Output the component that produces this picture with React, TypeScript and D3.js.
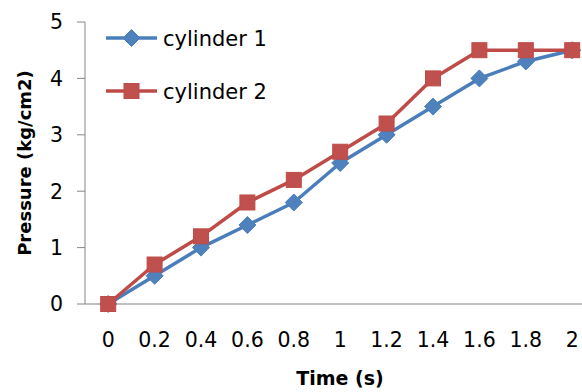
import React from "react";
import * as d3 from "d3";

const categories = ["0", "0.2", "0.4", "0.6", "0.8", "1", "1.2", "1.4", "1.6", "1.8", "2"];
const cylinder1 = [0, 0.5, 1, 1.4, 1.8, 2.5, 3, 3.5, 4, 4.3, 4.5];
const cylinder2 = [0, 0.7, 1.2, 1.8, 2.2, 2.7, 3.2, 4, 4.5, 4.5, 4.5];
const yTicks = [0, 1, 2, 3, 4, 5];
const seriesNames = ["cylinder 1", "cylinder 2"];

const W = 582;
const H = 392;
const FONT = "'DejaVu Sans', sans-serif";
const AXIS = "#868686";
const BLUE_LINE = "#4A7EBB";
const BLUE = "#4F81BD";
const RED_LINE = "#BE4B48";
const RED = "#C0504D";

export default function App() {
  const x = d3.scalePoint<string>().domain(categories).range([85, 595.4]).padding(0.5);
  const y = d3.scaleLinear().domain([0, 5]).range([304, 22]);

  const line = d3
    .line<number>()
    .x((_, i) => x(categories[i]) as number)
    .y((d) => y(d));

  const diamond = (cx: number, cy: number, r: number) =>
    `M${cx},${cy - r}L${cx + r},${cy}L${cx},${cy + r}L${cx - r},${cy}Z`;

  return (
    <div style={{ position: "absolute", left: 0, top: 0 }}>
      <svg width={W} height={H} style={{ display: "block", background: "#fff" }}>
        {/* axes */}
        <line x1={85} x2={85} y1={y(5)} y2={y(0)} stroke={AXIS} strokeWidth={1} />
        <line x1={85} x2={W} y1={y(0)} y2={y(0)} stroke={AXIS} strokeWidth={1} />
        {yTicks.map((t) => (
          <g key={t}>
            <line x1={77} x2={85} y1={y(t)} y2={y(t)} stroke={AXIS} strokeWidth={1} />
            <text
              x={63}
              y={y(t)}
              dy="0.36em"
              textAnchor="end"
              fontFamily={FONT}
              fontSize={20.5}
              fill="#000"
            >
              {t}
            </text>
          </g>
        ))}
        {categories.map((c) => (
          <text
            key={c}
            x={x(c) as number}
            y={347}
            textAnchor="middle"
            fontFamily={FONT}
            fontSize={20.5}
            fill="#000"
          >
            {c}
          </text>
        ))}
        <text x={340} y={385} textAnchor="middle" fontFamily={FONT} fontSize={19} fontWeight="bold">
          Time (s)
        </text>
        <text
          transform={`translate(31,163) rotate(-90)`}
          textAnchor="middle"
          fontFamily={FONT}
          fontSize={18}
          fontWeight="bold"
        >
          Pressure (kg/cm2)
        </text>

        {/* series 1 */}
        <path d={line(cylinder1) || ""} fill="none" stroke={BLUE_LINE} strokeWidth={3.5} strokeLinejoin="round" />
        {cylinder1.map((v, i) => (
          <path key={i} d={diamond(x(categories[i]) as number, y(v), 8.5)} fill={BLUE} stroke={BLUE_LINE} strokeWidth={1} />
        ))}
        {/* series 2 */}
        <path d={line(cylinder2) || ""} fill="none" stroke={RED_LINE} strokeWidth={3.5} strokeLinejoin="round" />
        {cylinder2.map((v, i) => (
          <rect
            key={i}
            x={(x(categories[i]) as number) - 7.5}
            y={y(v) - 7.5}
            width={15}
            height={15}
            fill={RED}
            stroke={RED_LINE}
            strokeWidth={1}
          />
        ))}

        {/* legend */}
        <g>
          <line x1={106} x2={157} y1={38} y2={38} stroke={BLUE_LINE} strokeWidth={3.5} />
          <path d={diamond(131.5, 38, 8.5)} fill={BLUE} stroke={BLUE_LINE} strokeWidth={1} />
          <text x={163} y={38} dy="0.36em" fontFamily={FONT} fontSize={21}>
            {seriesNames[0]}
          </text>
          <line x1={106} x2={157} y1={91} y2={91} stroke={RED_LINE} strokeWidth={3.5} />
          <rect x={124} y={83.5} width={15} height={15} fill={RED} stroke={RED_LINE} strokeWidth={1} />
          <text x={163} y={91} dy="0.36em" fontFamily={FONT} fontSize={21}>
            {seriesNames[1]}
          </text>
        </g>
      </svg>
    </div>
  );
}
